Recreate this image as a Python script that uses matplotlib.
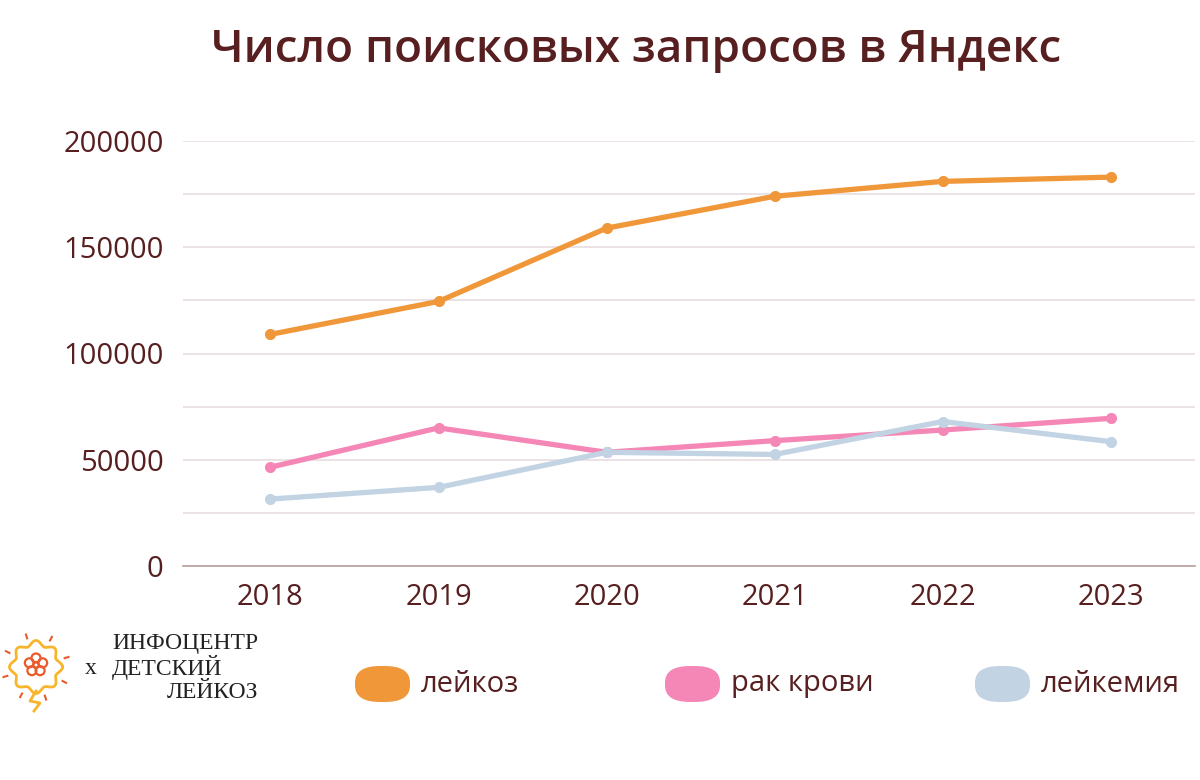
import numpy as np
import matplotlib.pyplot as plt
from matplotlib.patches import FancyBboxPatch, Circle

years = ['2018', '2019', '2020', '2021', '2022', '2023']
leykoz = [109000, 124500, 159000, 174000, 181000, 183000]
rak_krovi = [46500, 65000, 53500, 59000, 64000, 69500]
leykemiya = [31500, 37000, 53500, 52500, 68000, 58500]
series_names = ['лейкоз', 'рак крови', 'лейкемия']
colors = ['#f0973a', '#f487b5', '#c2d3e4']
text_color = '#571f1f'

plt.rcParams['font.family'] = ['Open Sans', 'DejaVu Sans']

fig = plt.figure(figsize=(12, 7.8), dpi=100)
ax = fig.add_axes([183 / 1200, 1 - 566 / 780, (1195 - 183) / 1200, (566 - 141) / 780])

x = np.arange(len(years))
for vals, c in zip([leykoz, rak_krovi, leykemiya], colors):
    ax.plot(x, vals, color=c, lw=3.8, marker='o', ms=7, solid_capstyle='round', zorder=3)

ax.set_xlim(-0.52, 5.5)
ax.set_ylim(0, 200000)
ax.set_yticks(np.arange(0, 200001, 50000))
ax.set_yticks(np.arange(0, 200001, 25000), minor=True)
ax.set_xticks(x)
ax.set_xticklabels(years)
ax.grid(axis='y', which='both', color='#e6dde0', lw=1.2, zorder=0)
for s in ['top', 'right', 'left']:
    ax.spines[s].set_visible(False)
ax.spines['bottom'].set_color('#b99e9e')
ax.spines['bottom'].set_linewidth(1.2)
ax.tick_params(axis='both', which='both', length=0, labelsize=21, labelcolor=text_color)
ax.tick_params(axis='y', pad=14)
ax.tick_params(axis='x', pad=12)

fig.text(0.53, 0.935, 'Число поисковых запросов в Яндекс', ha='center', va='center',
         fontsize=33, fontweight='semibold', color=text_color)

# legend
legend_x = [355, 665, 975]
for name, c, lx in zip(series_names, colors, legend_x):
    pill = FancyBboxPatch((lx / 1200, 1 - 702 / 780), 55 / 1200, 36 / 780,
                          boxstyle='round,pad=0,rounding_size=0.021', transform=fig.transFigure,
                          facecolor=c, edgecolor='none')
    fig.patches.append(pill)
    fig.text((lx + 66) / 1200, 1 - 684 / 780, name, ha='left', va='center',
             fontsize=21, color=text_color)

# logo
lax = fig.add_axes([0, 1 - 715 / 780, 80 / 1200, 90 / 780])
lax.set_xlim(0, 80)
lax.set_ylim(0, 90)
lax.set_aspect('equal')
lax.axis('off')
t = np.linspace(0, 2 * np.pi, 400)
r = 24 + 2.5 * np.cos(8 * t)
lax.plot(36 + r * np.cos(t), 48 + r * np.sin(t), color='#f7b52c', lw=2)
lax.plot([36, 30, 40, 34], [24, 14, 12, 4], color='#f7b52c', lw=2)
for k in range(5):
    a = np.pi / 2 + k * 2 * np.pi / 5
    lax.add_patch(Circle((36 + 7 * np.cos(a), 50 + 7 * np.sin(a)), 4.5, fill=False,
                         ec='#ea5a2a', lw=1.6))
lax.add_patch(Circle((36, 50), 3, fill=False, ec='#ea5a2a', lw=1.6))
for a in np.linspace(0, 2 * np.pi, 8, endpoint=False):
    lax.plot([36 + 30 * np.cos(a + 0.3), 36 + 34 * np.cos(a + 0.3)],
             [48 + 30 * np.sin(a + 0.3), 48 + 34 * np.sin(a + 0.3)], color='#ea5a2a', lw=1.5)

serif = dict(family='Liberation Serif', color='#222222', fontsize=17)
fig.text(85 / 1200, 1 - 668 / 780, 'х', ha='left', va='center', **serif)
fig.text(112 / 1200, 1 - 643 / 780, 'ИНФОЦЕНТР', ha='left', va='center', **serif)
fig.text(112 / 1200, 1 - 668 / 780, 'ДЕТСКИЙ', ha='left', va='center', **serif)
fig.text(258 / 1200, 1 - 692 / 780, 'ЛЕЙКОЗ', ha='right', va='center', **serif)

fig.savefig('out.png', dpi=100, facecolor='white')
